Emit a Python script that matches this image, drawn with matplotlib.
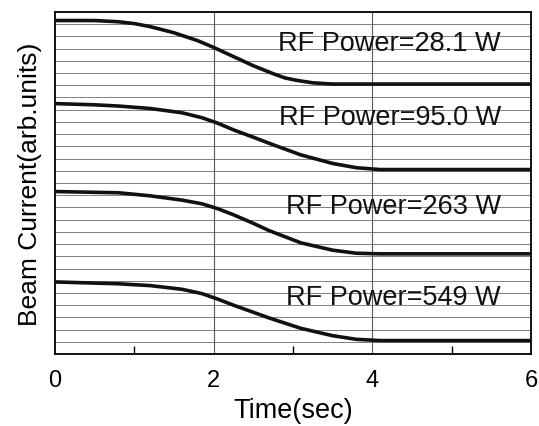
import numpy as np
import matplotlib.pyplot as plt

plt.rcParams['font.family'] = ['Liberation Sans', 'DejaVu Sans']

# Beam current traces (time in sec, arbitrary units)
t_28 = [0, 0.5, 0.8, 1.0, 1.2, 1.5, 1.8, 2.0, 2.25, 2.5, 2.75, 2.9, 3.05, 3.25, 3.5, 4.0, 5.0, 6.0]
i_28 = [27.3, 27.3, 27.2, 27.05, 26.8, 26.3, 25.65, 25.1, 24.35, 23.6, 22.95, 22.6, 22.4, 22.2, 22.1, 22.1, 22.1, 22.1]

t_95 = [0, 0.5, 0.8, 1.2, 1.6, 1.85, 2.05, 2.25, 2.5, 2.7, 3.1, 3.5, 3.8, 4.1, 5.0, 6.0]
i_95 = [20.5, 20.4, 20.3, 20.1, 19.75, 19.35, 18.9, 18.35, 17.75, 17.25, 16.3, 15.6, 15.25, 15.1, 15.1, 15.1]

t_263 = [0, 0.8, 1.2, 1.6, 1.85, 2.05, 2.25, 2.5, 2.7, 3.1, 3.5, 3.8, 4.1, 6.0]
i_263 = [13.3, 13.2, 12.95, 12.6, 12.3, 11.9, 11.4, 10.7, 10.1, 9.1, 8.5, 8.25, 8.2, 8.2]

t_549 = [0, 0.8, 1.2, 1.6, 1.85, 2.05, 2.25, 2.7, 3.1, 3.5, 3.8, 4.1, 6.0]
i_549 = [5.9, 5.75, 5.6, 5.3, 4.95, 4.5, 4.0, 2.95, 2.1, 1.5, 1.2, 1.1, 1.1]

labels = ['RF Power=28.1 W', 'RF Power=95.0 W', 'RF Power=263 W', 'RF Power=549 W']
label_y = [25.45, 19.4, 12.1, 4.65]

fig = plt.figure(figsize=(5.39, 4.27), dpi=100)
ax = fig.add_axes([0.102, 0.1686, 0.883, 0.801])

# grid: many horizontal lines, verticals at 2 and 4
for y in range(1, 28):
    ax.axhline(y, color='0.5', lw=0.7, zorder=1)
for x in [2, 4]:
    ax.axvline(x, color='0.35', lw=0.8, zorder=1)

for t, cur in [(t_28, i_28), (t_95, i_95), (t_263, i_263), (t_549, i_549)]:
    ax.plot(t, cur, color='#111111', lw=2.6, zorder=3,
            solid_joinstyle='round')

for lab, y in zip(labels, label_y):
    ax.text(5.62, y, lab, ha='right', va='center', fontsize=19.5, color='#111111', zorder=4)

ax.set_xlim(0, 6)
ax.set_ylim(0, 28)
ax.set_xticks([0, 2, 4, 6])
ax.set_xticks([1, 3, 5], minor=True)
ax.tick_params(axis='x', which='both', direction='in', labelsize=17, pad=11)
ax.tick_params(axis='x', which='major', length=0)
ax.tick_params(axis='x', which='minor', length=6, width=1)
ax.set_yticks([])
for s in ax.spines.values():
    s.set_linewidth(1.3)

ax.set_xlabel('Time(sec)', fontsize=19.5, labelpad=4)
ax.set_ylabel('Beam Current(arb.units)', fontsize=19)
ax.yaxis.set_label_coords(-0.028, 0.5)

fig.savefig('out.png', dpi=100)
